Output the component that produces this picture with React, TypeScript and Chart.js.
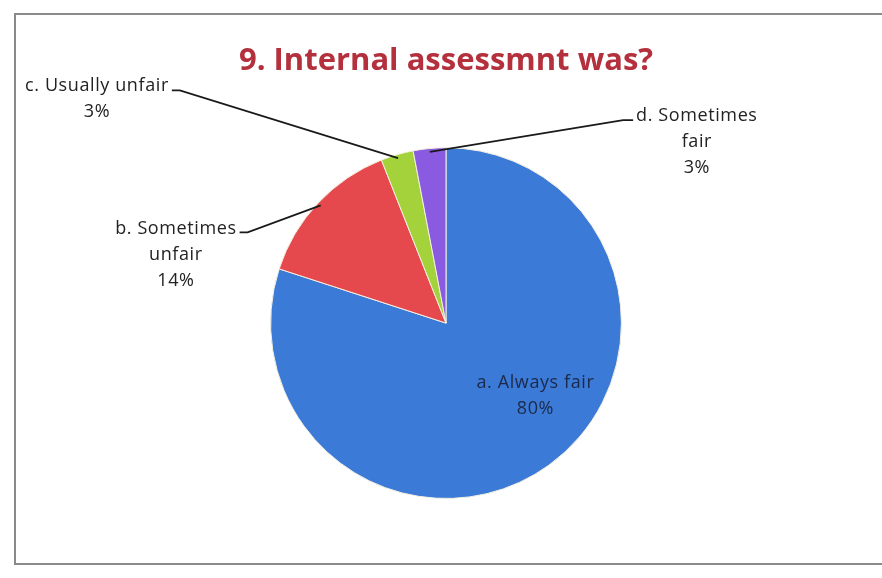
import React, { useEffect, useRef } from "react";
import { Chart, registerables } from "chart.js";

Chart.register(...registerables);

const TITLE = "9. Internal assessmnt was?";
const categories = ["a. Always fair", "b. Sometimes unfair", "c. Usually unfair", "d. Sometimes fair"];
const labelLines = [["a. Always fair"], ["b. Sometimes", "unfair"], ["c. Usually unfair"], ["d. Sometimes", "fair"]];
const values = [80, 14, 3, 3];
const colors = ["#3b7ad6", "#e5494e", "#a3d23a", "#8a5ae0"];

// label placement, in units of the pie radius, relative to the pie centre (styling only)
const labelLayout = [
  { dx: 0.51, dy: 0.34, leader: null as null | "left" | "right", color: "#1b2a4a" },
  { dx: -1.54, dy: -0.54, leader: "right", color: "#222222" },
  { dx: -1.99, dy: -1.35, leader: "right", color: "#222222" },
  { dx: 1.43, dy: -1.18, leader: "left", color: "#222222" },
];

const FONT = "'Open Sans', Lato, sans-serif";

const labelPlugin = {
  id: "sliceLabels",
  afterDatasetsDraw(chart: any) {
    const ctx = chart.ctx;
    const meta = chart.getDatasetMeta(0);
    const total = values.reduce((s, v) => s + v, 0);
    ctx.save();
    meta.data.forEach((arc: any, i: number) => {
      const { x, y, startAngle, endAngle, outerRadius } = arc.getProps(
        ["x", "y", "startAngle", "endAngle", "outerRadius"],
        true
      );
      const cfg = labelLayout[i];
      const lx = x + cfg.dx * outerRadius;
      const ly = y + cfg.dy * outerRadius;
      const lines = [...labelLines[i], Math.round((values[i] / total) * 100) + "%"];
      ctx.font = `18px ${FONT}`;
      try { (ctx as any).letterSpacing = "0.6px"; } catch (e) {}
      ctx.textAlign = "center";
      ctx.textBaseline = "middle";
      ctx.fillStyle = cfg.color;
      const lh = 26;
      lines.forEach((t, k) => ctx.fillText(t, lx, ly + k * lh));
      if (cfg.leader) {
        const w = ctx.measureText(lines[0]).width;
        const mid = (startAngle + endAngle) / 2;
        const px = x + Math.cos(mid) * outerRadius * 0.98;
        const py = y + Math.sin(mid) * outerRadius * 0.98;
        const sx = cfg.leader === "right" ? lx + w / 2 + 3 : lx - w / 2 - 3;
        const sy = ly + 4;
        const bx = cfg.leader === "right" ? sx + 8 : sx - 10;
        ctx.beginPath();
        ctx.moveTo(sx, sy);
        ctx.lineTo(bx, sy);
        ctx.lineTo(px, py);
        ctx.strokeStyle = "#1a1a1a";
        ctx.lineWidth = 1.8;
        ctx.stroke();
      }
    });
    ctx.restore();
  },
};

export default function App() {
  const ref = useRef<HTMLCanvasElement>(null);
  useEffect(() => {
    if (!ref.current) return;
    const chart = new Chart(ref.current, {
      type: "pie",
      data: {
        labels: categories,
        datasets: [
          {
            data: values,
            backgroundColor: colors,
            borderColor: "#f4f0e0",
            borderWidth: 1,
          },
        ],
      },
      options: {
        animation: false,
        responsive: false,
        layout: { padding: { top: 0, bottom: 79, left: 150, right: 140 } },
        plugins: {
          legend: { display: false },
          tooltip: { enabled: false },
          title: {
            display: true,
            text: TITLE,
            color: "#b3303c",
            font: { family: FONT, size: 31, weight: "bold" },
            padding: { top: 43, bottom: 67 },
          },
        },
      },
      plugins: [labelPlugin],
    });
    return () => chart.destroy();
  }, []);
  return (
    <div style={{ position: "fixed", left: 0, top: 0, width: 882, height: 578, background: "#ffffff", overflow: "hidden" }}>
      <div
        style={{
          position: "absolute",
          left: 14,
          top: 13,
          width: 900,
          height: 552,
          border: "2px solid #8a8a8a",
          boxSizing: "border-box",
        }}
      />
      <canvas ref={ref} width={882} height={578} style={{ position: "absolute", left: 0, top: 0 }} />
    </div>
  );
}
